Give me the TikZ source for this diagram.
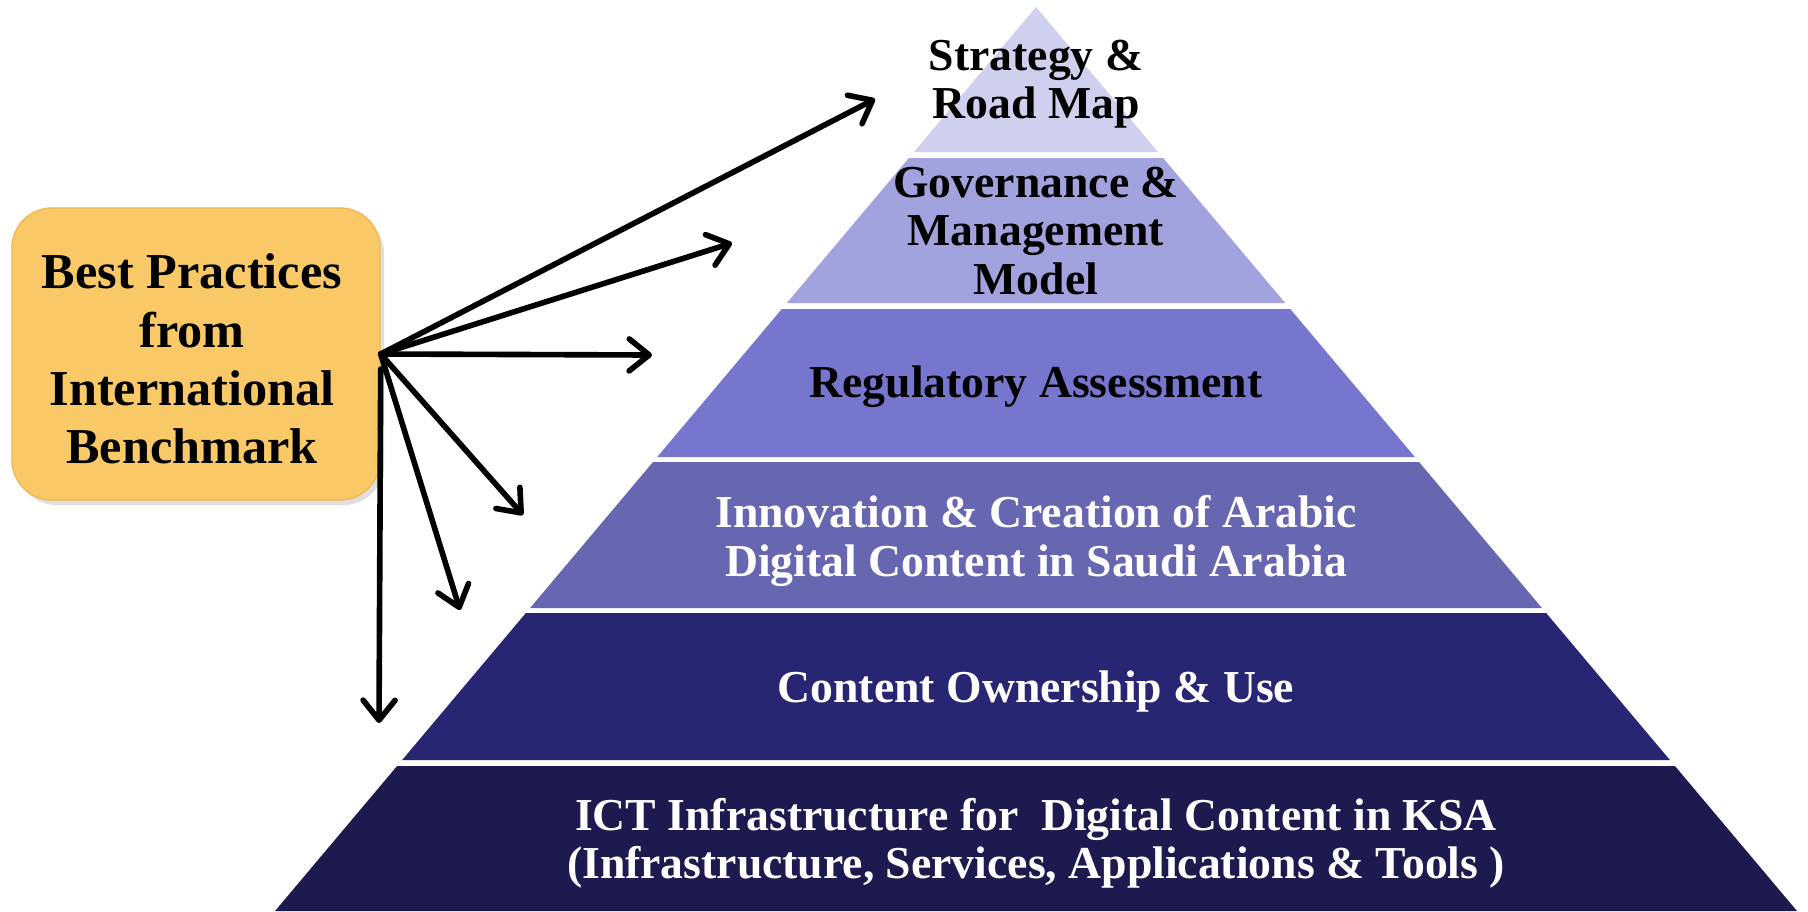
\documentclass[tikz,border=0pt]{standalone}
\usepackage{fontspec}
\setmainfont{Liberation Serif}
\usetikzlibrary{arrows.meta}
\usetikzlibrary{shadows}

\definecolor{gold}{RGB}{248,201,102}
\definecolor{goldedge}{RGB}{240,184,80}
\definecolor{tierA}{RGB}{207,207,238}
\definecolor{tierB}{RGB}{162,162,222}
\definecolor{tierC}{RGB}{118,118,207}
\definecolor{tierD}{RGB}{103,103,177}
\definecolor{tierE}{RGB}{40,38,115}
\definecolor{tierF}{RGB}{28,26,78}

% one slice of the pyramid, #1 = top, #2 = bottom, #3 = colour
\newcommand{\tier}[3]{
  \fill[#3] ({10.36 - 0.8418*(9.04 - #1)}, #1) -- ({10.36 + 0.8418*(9.04 - #1)}, #1)
    -- ({10.36 + 0.8418*(9.04 - #2)}, #2) -- ({10.36 - 0.8418*(9.04 - #2)}, #2) -- cycle;}

\begin{document}
\begin{tikzpicture}[line cap = round, line join = round,
  label/.style = {font = \fontsize{13}{13.7}\selectfont\bfseries, align = center,
    inner sep = 0pt},
  pointer/.style = {line width = 1.6pt,
    -{Straight Barb[length = 2mm, width = 3.2mm, round]}}]
  \useasboundingbox (0, 0) rectangle (18.08, 9.11);

  \tier{9.04}{7.59}{tierA}
  \tier{7.53}{6.08}{tierB}
  \tier{6.02}{4.54}{tierC}
  \tier{4.49}{3.03}{tierD}
  \tier{2.98}{1.51}{tierE}
  \tier{1.45}{0.00}{tierF}

  \node[label] (strategy) at (10.36, 8.27) {Strategy \&\\Road Map};
  \node[label] (governance) at (10.36, 6.80) {Governance \&\\Management\\Model};
  \node[label] (regulatory) at (10.36, 5.24) {Regulatory Assessment};
  \node[label, white] (innovation) at (10.36, 3.70)
    {Innovation \& Creation of Arabic\\Digital Content in Saudi Arabia};
  \node[label, white] (ownership) at (10.36, 2.20) {Content Ownership \& Use};
  \node[label, white] (infra) at (10.36, 0.68)
    {ICT Infrastructure for\ \ Digital Content in KSA\\
     (Infrastructure, Services, Applications \& Tools )};

  \node[fill = gold, draw = goldedge, line width = 0.4pt, rounded corners = 0.4cm,
    minimum width = 3.68cm, minimum height = 2.92cm, align = center,
    font = \fontsize{14.3}{16.6}\selectfont\bfseries,
    drop shadow = {opacity = 0.25, shadow xshift = 0.04cm, shadow yshift = -0.05cm}]
    (bench) at (1.96, 5.57) {};
  \node[font = \fontsize{14.3}{16.6}\selectfont\bfseries, align = center]
    (benchtext) at (1.92, 5.52) {Best Practices\\from\\International\\Benchmark};

  % fan of arrows into the pyramid
  \coordinate (t1) at (8.75, 8.12);
  \coordinate (t2) at (7.32, 6.68);
  \coordinate (t3) at (6.52, 5.56);
  \coordinate (t4) at (5.23, 3.96);
  \coordinate (t5) at (4.60, 3.01);
  \coordinate (t6) at (3.79, 1.88);

  \foreach \t in {t1, t2, t3, t4, t5}
    \draw[pointer] (bench.east) -- (\t);
  \draw[pointer] ([yshift = -1.5mm]bench.east) -- (t6);
\end{tikzpicture}
\end{document}
